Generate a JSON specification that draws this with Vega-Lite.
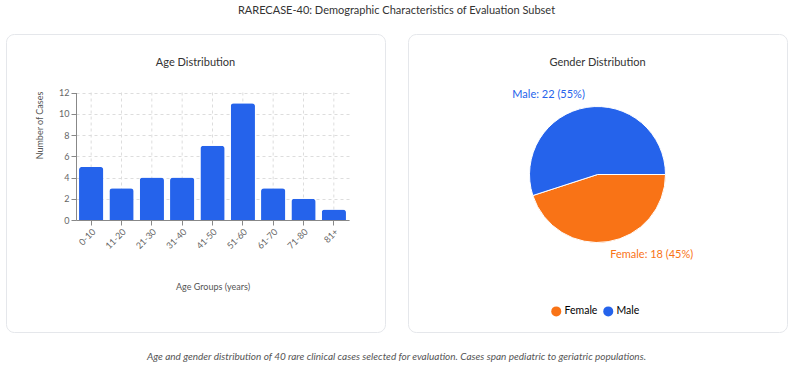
{
  "$schema": "https://vega.github.io/schema/vega-lite/v6.json",
  "background": "white",
  "padding": {"left": 5, "top": 4, "right": 0, "bottom": 0},
  "config": {
    "font": "Lato",
    "view": {"stroke": "#e5e7eb", "strokeWidth": 1, "cornerRadius": 8, "fill": "white"},
    "axis": {"labelFont": "Lato", "titleFont": "Lato"}
  },
  "datasets": {
    "ages": [
      {"group": "0-10", "cases": 5},
      {"group": "11-20", "cases": 3},
      {"group": "21-30", "cases": 4},
      {"group": "31-40", "cases": 4},
      {"group": "41-50", "cases": 7},
      {"group": "51-60", "cases": 11},
      {"group": "61-70", "cases": 3},
      {"group": "71-80", "cases": 2},
      {"group": "81+", "cases": 1}
    ],
    "genders": [
      {"gender": "Female", "count": 18},
      {"gender": "Male", "count": 22}
    ]
  },
  "title": {
    "text": "RARECASE-40: Demographic Characteristics of Evaluation Subset",
    "fontSize": 11,
    "fontWeight": "normal",
    "color": "#333333",
    "anchor": "middle",
    "offset": 18
  },
  "vconcat": [
    {
      "title": {
        "text": "Age and gender distribution of 40 rare clinical cases selected for evaluation. Cases span pediatric to geriatric populations.",
        "orient": "bottom",
        "fontSize": 10,
        "fontStyle": "italic",
        "fontWeight": "normal",
        "color": "#555555",
        "anchor": "middle",
        "offset": 19
      },
      "spacing": 21,
      "hconcat": [
        {
          "width": 379,
          "height": 298,
          "title": {
            "text": "Age Distribution",
            "fontSize": 11,
            "fontWeight": "normal",
            "color": "#333333",
            "baseline": "middle",
            "offset": -40
          },
          "data": {"name": "ages"},
          "encoding": {
            "x": {
              "field": "group",
              "type": "nominal",
              "sort": null,
              "scale": {"range": [70, 343], "paddingInner": 0.2, "paddingOuter": 0.1},
              "axis": {
                "title": "Age Groups (years)",
                "offset": -112,
                "labelAngle": -45,
                "labelFontSize": 9,
                "labelColor": "#666666",
                "domainColor": "#888888",
                "tickColor": "#888888",
                "tickSize": 5,
                "bandPosition": 0.5,
                "grid": false,
                "titleFontSize": 9,
                "titleFontWeight": "normal",
                "titleColor": "#555555",
                "titleY": 66,
                "titleBaseline": "middle"
              }
            }
          },
          "layer": [
            {
              "mark": {"type": "rule", "color": "#dddddd", "strokeDash": [3, 3], "strokeWidth": 1},
              "encoding": {
                "y": {"datum": 12, "type": "quantitative"},
                "y2": {"datum": 0}
              }
            },
            {
              "mark": {"type": "bar", "color": "#2563eb", "cornerRadiusTopLeft": 3, "cornerRadiusTopRight": 3},
              "encoding": {
                "y": {
                  "field": "cases",
                  "type": "quantitative",
                  "scale": {"domain": [0, 12], "range": [186, 58.5], "nice": false},
                  "axis": {
                    "title": "Number of Cases",
                    "offset": -70,
                    "values": [0, 2, 4, 6, 8, 10, 12],
                    "labelFontSize": 9,
                    "labelColor": "#666666",
                    "domainColor": "#888888",
                    "tickColor": "#888888",
                    "tickSize": 5,
                    "grid": true,
                    "gridDash": [3, 3],
                    "gridColor": "#dddddd",
                    "titleFontSize": 9,
                    "titleFontWeight": "normal",
                    "titleColor": "#555555",
                    "titleX": -37,
                    "titleY": 91,
                    "titleAlign": "center",
                    "titleBaseline": "middle"
                  }
                }
              }
            }
          ]
        },
        {
          "width": 379,
          "height": 298,
          "title": {
            "text": "Gender Distribution",
            "fontSize": 11,
            "fontWeight": "normal",
            "color": "#333333",
            "baseline": "middle",
            "offset": -40
          },
          "data": {"name": "genders"},
          "transform": [
            {"joinaggregate": [{"op": "sum", "field": "count", "as": "total"}]},
            {"calculate": "datum.gender + ': ' + datum.count + ' (' + round(100 * datum.count / datum.total) + '%)'", "as": "label"}
          ],
          "encoding": {
            "theta": {
              "field": "count",
              "type": "quantitative",
              "stack": true,
              "scale": {"range": [1.5707963, 7.8539816]}
            },
            "y": {
              "datum": "pie",
              "type": "nominal",
              "scale": {"type": "point", "padding": 0, "align": 0.4715},
              "axis": null
            },
            "order": {"field": "gender", "sort": "ascending"},
            "color": {
              "field": "gender",
              "type": "nominal",
              "scale": {"domain": ["Female", "Male"], "range": ["#f97316", "#2563eb"]},
              "legend": {
                "title": null,
                "orient": "none",
                "legendX": 545,
                "legendY": 272,
                "direction": "horizontal",
                "symbolType": "circle",
                "symbolSize": 100,
                "symbolStrokeWidth": 0,
                "labelFont": "Lato",
                "labelFontSize": 10.5,
                "labelOffset": 3,
                "columnPadding": 5,
                "encode": {
                  "labels": {
                    "update": {
                      "fill": {"signal": "datum.value === 'Female' ? '#f97316' : '#2563eb'"}
                    }
                  }
                }
              }
            }
          },
          "layer": [
            {
              "mark": {
                "type": "arc",
                "outerRadius": 68,
                "stroke": "white",
                "strokeWidth": 1
              }
            },
            {
              "mark": {
                "type": "text",
                "radius": 81,
                "fontSize": 11,
                "baseline": "middle",
                "align": {"expr": "datum.gender === 'Male' ? 'right' : 'left'"}
              },
              "encoding": {
                "text": {"field": "label"},
                "color": {"field": "gender", "type": "nominal", "legend": null}
              }
            }
          ]
        }
      ]
    }
  ]
}
